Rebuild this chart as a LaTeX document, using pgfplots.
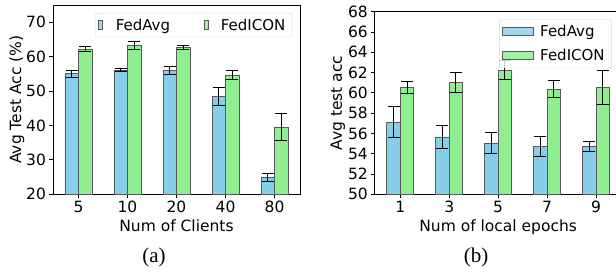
\documentclass[border=0pt]{standalone}
\usepackage{pgfplots}
\pgfplotsset{compat=1.18}
\usepackage{fontspec}
\setmainfont{DejaVu Sans}
\newfontfamily\capfont{Liberation Serif}
\definecolor{skyb}{HTML}{87CEEB}
\definecolor{lgreen}{HTML}{90EE90}
\pgfplotsset{
  common/.style={
    scale only axis, anchor=south west,
    xmin=-0.52, xmax=4.52,
    ybar=0pt, bar width=13.5pt,
    xtick={0,1,2,3,4},
    tick align=outside, tick pos=left, major tick length=3.5pt,
    tick style={black, line width=0.8pt},
    axis line style={line width=0.8pt},
    tick label style={font=\fontsize{15.5}{17}\selectfont},
    label style={font=\fontsize{15.5}{17}\selectfont},
    /pgf/number format/assume math mode=true,
    legend style={font=\fontsize{15}{17}\selectfont, draw=black!15, rounded corners=2pt,
      fill=white, fill opacity=0.8, text opacity=1},
    legend cell align=left,
  },
  barA/.style={fill=skyb, draw=black!65, line width=0.8pt,
    error bars/.cd, y dir=both, y explicit,
    error bar style={black, line width=1pt},
    error mark options={rotate=90, mark size=6pt, line width=1pt, black}},
  barB/.style={fill=lgreen, draw=black!65, line width=0.8pt,
    error bars/.cd, y dir=both, y explicit,
    error bar style={black, line width=1pt},
    error mark options={rotate=90, mark size=6pt, line width=1pt, black}},
}
\begin{document}
\begin{tikzpicture}
\useasboundingbox (0pt,0pt) rectangle (616pt,273pt);
\clip (0pt,0pt) rectangle (616pt,273pt);
\begin{axis}[common,
  at={(53pt,78.7pt)}, width=247pt, height=189.3pt,
  ymin=20, ymax=75, ytick={20,30,40,50,60,70},
  xticklabels={5,10,20,40,80},
  xlabel={Num of Clients}, ylabel={Avg Test Acc (\%)},
  ylabel shift=-5pt,
  legend columns=2,
  legend style={at={(0.968,0.958)}, anchor=north east,
    /tikz/every even column/.append style={column sep=30pt},
    /tikz/every odd column/.append style={column sep=9pt},
    nodes={inner sep=3.5pt}},
  legend image code/.code={\draw[#1, sharp corners, line width=0.8pt] (2pt,-4.5pt) rectangle (6pt,4.5pt);},
]
\addplot[barA] coordinates {(0,55.0) +- (0,1.0) (1,56.1) +- (0,0.4) (2,56.0) +- (0,1.15) (3,48.4) +- (0,2.65) (4,24.8) +- (0,1.15)};
\addplot[barB] coordinates {(0,62.2) +- (0,0.8) (1,63.2) +- (0,1.05) (2,62.7) +- (0,0.6) (3,54.6) +- (0,1.25) (4,39.5) +- (0,3.9)};
\legend{FedAvg, FedICON}
\end{axis}
\begin{axis}[common,
  at={(374.8pt,78.7pt)}, width=246.7pt, height=182.6pt,
  ymin=50, ymax=68, ytick={50,52,...,68},
  xticklabels={1,3,5,7,9},
  xlabel={Num of local epochs}, ylabel={Avg test acc},
  ylabel shift=-4pt,
  legend style={at={(0.961,0.96)}, anchor=north east, row sep=3pt,
    /tikz/every odd column/.append style={column sep=2pt},
    nodes={inner sep=4pt}},
  legend image code/.code={\draw[#1, sharp corners, line width=0.8pt] (0pt,-4pt) rectangle (31pt,4pt);},
]
\addplot[barA] coordinates {(0,57.1) +- (0,1.55) (1,55.65) +- (0,1.1) (2,55.03) +- (0,1.03) (3,54.7) +- (0,1.0) (4,54.7) +- (0,0.5)};
\addplot[barB] coordinates {(0,60.55) +- (0,0.6) (1,61.04) +- (0,1.0) (2,62.25) +- (0,0.9) (3,60.35) +- (0,0.85) (4,60.55) +- (0,1.7)};
\legend{FedAvg, FedICON}
\end{axis}
\node[font=\capfont\fontsize{21}{24}\selectfont] at (154pt,16pt) {(a)};
\node[font=\capfont\fontsize{21}{24}\selectfont] at (476pt,16pt) {(b)};
\end{tikzpicture}
\end{document}
